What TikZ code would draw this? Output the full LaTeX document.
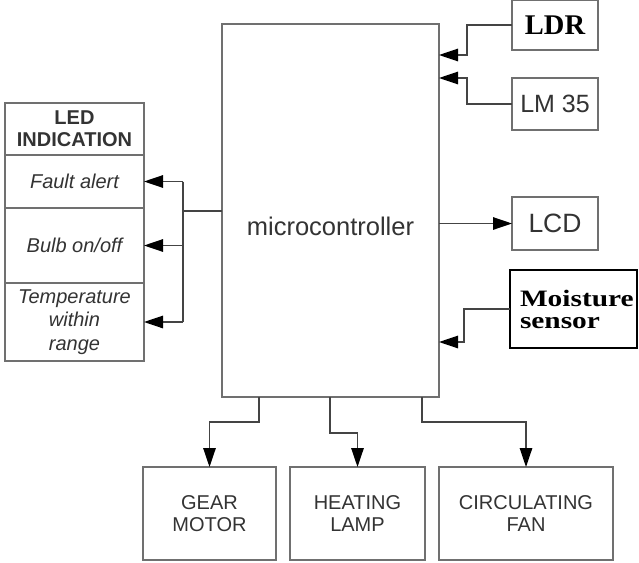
\documentclass[tikz,border=0pt]{standalone}
\usepackage{fontspec}
\setmainfont{Liberation Sans}
\newfontfamily\boldserif{Liberation Serif}
\newfontfamily\wideserif[FakeStretch=1.25]{Liberation Serif}
\usetikzlibrary{arrows.meta,positioning}
\definecolor{Ink}{HTML}{333333}
\definecolor{Frame}{HTML}{707070}
\definecolor{Wire}{HTML}{444444}
\tikzset{
  blockbox/.style={draw=Frame,line width=1.6pt,fill=white,align=center,text=Ink,inner sep=0pt,outer sep=0pt,font=\fontsize{20}{22}\selectfont},
  sensorbox/.style={blockbox,font=\boldserif\bfseries\fontsize{28.5}{28}\selectfont,text=black},
  ledrow/.style={blockbox,minimum width=139pt,font=\itshape\fontsize{20}{23.5}\selectfont},
  wire/.style={draw=Wire,line width=1.3pt},
  arrowline/.style={wire,-{Triangle[length=19pt,width=12.5pt,color=black]}}
}

\begin{document}
\begin{tikzpicture}[x=1pt,y=-1pt]
  \fill[white] (0,0) rectangle (639,562);
  \useasboundingbox (0,0) rectangle (639,562);
  % controller
  \node[blockbox,minimum width=217pt,minimum height=373pt,
    label={[font=\fontsize{25.5}{25}\selectfont,text=Ink,yshift=-16pt]center:microcontroller}] (mcu) at (330.5,210.5) {};
  % inputs and display
  \node[sensorbox,minimum width=86pt,minimum height=50pt] (ldr) at (555,25) {LDR};
  \node[blockbox,minimum width=86pt,minimum height=52pt,font=\fontsize{25}{25}\selectfont] (lm) at (555,104) {LM 35};
  \node[blockbox,minimum width=86pt,minimum height=53pt,font=\fontsize{26.5}{26}\selectfont] (lcd) at (555,223.5) {LCD};
  \node[sensorbox,draw=black,line width=1.8pt,minimum width=127pt,minimum height=78pt,
    align=left,text width=107pt,font=\wideserif\bfseries\fontsize{23.5}{22}\selectfont] (moist) at (573.5,309) {Moisture\\sensor};
  % LED indication
  \node[blockbox,minimum width=139pt,minimum height=52pt,font=\bfseries\fontsize{20}{22}\selectfont] (led) at (74.5,129) {LED\\INDICATION};
  \node[ledrow,minimum height=53pt,below=0pt of led] (fault) {Fault alert};
  \node[ledrow,minimum height=75pt,below=0pt of fault] (bulb) {Bulb on/off};
  \node[ledrow,minimum height=78pt,below=0pt of bulb] (temp) {Temperature\\within\\range};
  % outputs
  \node[blockbox,minimum width=133pt,minimum height=93pt] (gear) at (209.5,513.5) {GEAR\\MOTOR};
  \node[blockbox,minimum width=135pt,minimum height=93pt,right=14pt of gear] (lamp) {HEATING\\LAMP};
  \node[blockbox,minimum width=174pt,minimum height=93pt,right=14pt of lamp] (fan) {CIRCULATING\\FAN};

  \draw[arrowline] (ldr.west) -- ++(-45,0) |- (mcu.east |- 0,55);
  \draw[arrowline] (lm.west) -- ++(-45,0) |- (mcu.east |- 0,78);
  \draw[arrowline] (mcu.east |- lcd.west) -- (lcd.west);
  \draw[arrowline] (moist.west) -- ++(-46,0) |- (mcu.east |- 0,342);

  \draw[wire] (mcu.west |- 0,211) -- ++(-39,0) coordinate (fork);
  \draw[wire] (fork |- fault.east) -- (fork |- temp.east);
  \draw[arrowline] (fork |- fault.east) -- (fault.east);
  \draw[arrowline] (fork |- bulb.east) -- (bulb.east);
  \draw[arrowline] (fork |- temp.east) -- (temp.east);

  \draw[arrowline] (mcu.south -| 259,0) -- ++(0,25) -| (gear.north);
  \draw[arrowline] (mcu.south -| 330,0) -- ++(0,36) -| (lamp.north);
  \draw[arrowline] (mcu.south -| 422,0) -- ++(0,25) -| (fan.north);
\end{tikzpicture}
\end{document}
